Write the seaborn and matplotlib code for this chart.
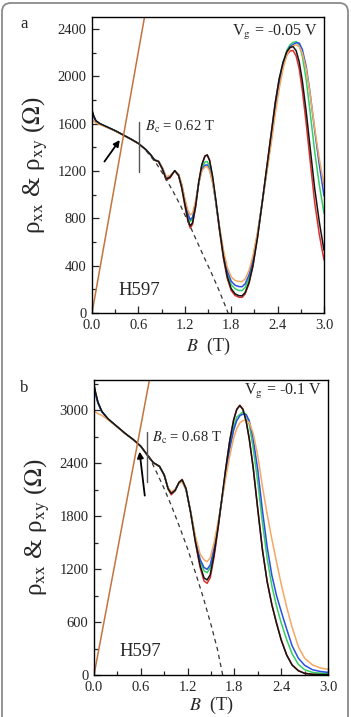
import numpy as np
import pandas as pd
import matplotlib
matplotlib.use("Agg")
import matplotlib.pyplot as plt
import seaborn as sns
from matplotlib.patches import FancyBboxPatch
from matplotlib.ticker import MultipleLocator, FormatStrFormatter

# ---- panel a : Vg = -0.05 V ----
B_A = [0.00, 0.02, 0.05, 0.10, 0.20, 0.30, 0.40, 0.50, 0.60, 0.70,
       0.76, 0.81, 0.86, 0.91, 0.96, 1.01, 1.07, 1.12, 1.16, 1.20,
       1.24, 1.27, 1.30, 1.34, 1.38, 1.42, 1.46, 1.49, 1.52, 1.56,
       1.60, 1.65, 1.70, 1.75, 1.80, 1.85, 1.90, 1.94, 1.98, 2.03,
       2.08, 2.14, 2.20, 2.26, 2.32, 2.37, 2.42, 2.47, 2.52, 2.56,
       2.60, 2.64, 2.68, 2.72, 2.77, 2.82, 2.88, 2.94, 3.00]

RXX_A_ORANGE = [1640, 1620, 1605, 1592, 1566, 1537, 1503, 1468, 1430, 1376,
                1333, 1290, 1283, 1228, 1150, 1162, 1196, 1170, 1090, 968,
                870, 828, 845, 950, 1095, 1200, 1233, 1236, 1203, 1100,
                945, 725, 530, 385, 305, 275, 266, 265, 288, 360,
                480, 680, 925, 1185, 1445, 1680, 1890, 2060, 2180, 2235,
                2258, 2264, 2250, 2195, 2060, 1850, 1560, 1300, 1080]
RXX_A_BLUE = [1700, 1662, 1620, 1598, 1569, 1539, 1505, 1470, 1432, 1378,
              1335, 1292, 1283, 1225, 1145, 1158, 1198, 1168, 1082, 955,
              838, 788, 808, 930, 1095, 1210, 1248, 1251, 1215, 1105,
              940, 710, 505, 355, 268, 235, 223, 222, 246, 322,
              452, 668, 930, 1200, 1475, 1718, 1925, 2090, 2205, 2250,
              2268, 2282, 2280, 2225, 2080, 1860, 1540, 1250, 990]
RXX_A_GREEN = [1705, 1665, 1622, 1600, 1570, 1540, 1505, 1470, 1432, 1378,
               1335, 1292, 1282, 1222, 1140, 1155, 1200, 1165, 1075, 945,
               825, 772, 795, 925, 1100, 1225, 1275, 1279, 1240, 1120,
               945, 705, 490, 330, 240, 205, 190, 189, 215, 295,
               430, 655, 925, 1205, 1490, 1740, 1950, 2110, 2220, 2265,
               2285, 2293, 2262, 2170, 1970, 1700, 1360, 1080, 842]
RXX_A_BLACK = [1715, 1670, 1625, 1600, 1570, 1540, 1505, 1470, 1432, 1378,
               1335, 1292, 1280, 1218, 1130, 1148, 1203, 1162, 1062, 922,
               790, 735, 762, 905, 1105, 1252, 1325, 1335, 1292, 1152,
               962, 705, 475, 305, 205, 162, 146, 145, 172, 258,
               398, 638, 928, 1228, 1528, 1778, 1978, 2118, 2208, 2243,
               2250, 2215, 2120, 1960, 1700, 1400, 1050, 765, 530]
RXX_A_RED = [1700, 1660, 1620, 1598, 1568, 1538, 1504, 1469, 1431, 1377,
             1334, 1290, 1278, 1215, 1122, 1142, 1200, 1160, 1055, 910,
             775, 718, 748, 895, 1100, 1250, 1325, 1335, 1288, 1140,
             945, 688, 458, 290, 190, 148, 133, 132, 160, 248,
             392, 636, 930, 1232, 1530, 1775, 1968, 2100, 2182, 2212,
             2217, 2170, 2060, 1880, 1600, 1290, 930, 660, 448]

HALL_A_B = [0.0, 0.72]
HALL_A_RHO = [0, 2650]
BG_A_B = [0.70, 0.83, 0.95, 1.05, 1.15, 1.25, 1.35, 1.45, 1.55, 1.65, 1.76]
BG_A_RHO = [1370, 1265, 1140, 1025, 900, 760, 615, 470, 330, 180, 0]

# ---- panel b : Vg = -0.1 V ----
B_B = [0.00, 0.02, 0.05, 0.10, 0.18, 0.28, 0.40, 0.50, 0.60, 0.68,
       0.76, 0.84, 0.90, 0.95, 0.99, 1.04, 1.09, 1.13, 1.18, 1.24,
       1.30, 1.36, 1.41, 1.45, 1.49, 1.54, 1.59, 1.64, 1.69, 1.74,
       1.79, 1.83, 1.87, 1.91, 1.95, 1.99, 2.04, 2.10, 2.16, 2.22,
       2.28, 2.34, 2.40, 2.47, 2.54, 2.62, 2.70, 2.80, 2.90, 3.00]

RXX_B_ORANGE = [2990, 2975, 2960, 2940, 2890, 2820, 2730, 2665, 2588, 2492,
                2402, 2360, 2268, 2120, 2075, 2100, 2170, 2185, 2100, 1850,
                1570, 1370, 1305, 1283, 1325, 1500, 1730, 1980, 2240, 2480,
                2680, 2790, 2855, 2880, 2887, 2860, 2740, 2480, 2130, 1820,
                1540, 1280, 1030, 770, 540, 320, 190, 115, 80, 64]
RXX_B_BLUE = [3250, 3175, 3080, 2980, 2898, 2823, 2733, 2667, 2589, 2493,
              2403, 2361, 2266, 2115, 2065, 2095, 2175, 2195, 2100, 1845,
              1545, 1310, 1218, 1196, 1245, 1440, 1700, 1985, 2280, 2560,
              2770, 2880, 2935, 2955, 2950, 2880, 2680, 2320, 1860, 1450,
              1130, 900, 720, 520, 330, 190, 110, 60, 40, 30]
RXX_B_GREEN = [3270, 3185, 3085, 2985, 2899, 2824, 2734, 2668, 2590, 2494,
               2404, 2362, 2264, 2112, 2060, 2093, 2180, 2205, 2105, 1840,
               1530, 1290, 1180, 1158, 1210, 1420, 1690, 1990, 2300, 2590,
               2810, 2920, 2950, 2981, 2950, 2840, 2580, 2180, 1720, 1320,
               1010, 780, 590, 400, 240, 120, 60, 30, 20, 18]
RXX_B_BLACK = [3290, 3200, 3090, 2985, 2900, 2825, 2735, 2668, 2590, 2495,
               2405, 2362, 2265, 2110, 2055, 2090, 2180, 2210, 2108, 1835,
               1510, 1240, 1100, 1076, 1135, 1370, 1670, 2005, 2345, 2650,
               2885, 3005, 3050, 3005, 2875, 2675, 2350, 1870, 1410, 1055,
               795, 585, 395, 225, 112, 48, 18, 8, 6, 6]
RXX_B_RED = [3280, 3195, 3088, 2984, 2899, 2824, 2734, 2667, 2589, 2494,
             2404, 2360, 2262, 2105, 2040, 2085, 2182, 2215, 2110, 1830,
             1500, 1220, 1065, 1038, 1100, 1340, 1650, 1995, 2340, 2650,
             2890, 3010, 3055, 3010, 2880, 2680, 2360, 1880, 1420, 1060,
             800, 590, 400, 230, 115, 50, 20, 8, 5, 5]

HALL_B_B = [0.0, 0.75]
HALL_B_RHO = [0, 3525]
BG_B_B = [0.70, 0.80, 0.90, 1.00, 1.10, 1.20, 1.30, 1.40, 1.50, 1.58, 1.65]
BG_B_RHO = [2480, 2300, 2110, 1900, 1670, 1430, 1160, 880, 570, 300, 0]

# drawing order: last one ends up on top
RUNS = ["red", "green", "blue", "orange", "black"]
PALETTE = {"orange": "#f4a862", "blue": "#2b4fe0", "green": "#33d060",
           "black": "#141414", "red": "#e0302c"}
HALL_COLOR = "#c4743c"


def long_frame(b, curves):
    parts = [pd.DataFrame({"B": b, "rho": curves[k], "run": k}) for k in RUNS]
    return pd.concat(parts, ignore_index=True)


def draw_panel(ax, b, curves, hall_b, hall_rho, bg_b, bg_rho, ymax, ystep, xpad=3):
    df = long_frame(b, curves)
    sns.lineplot(data=df, x="B", y="rho", hue="run", hue_order=RUNS, palette=PALETTE,
                 estimator=None, sort=False, lw=1.1, legend=False, ax=ax)
    sns.lineplot(x=hall_b, y=hall_rho, color=HALL_COLOR, lw=1.1, ax=ax)
    ax.plot(bg_b, bg_rho, ls=(0, (3.5, 3)), color="#333333", lw=0.9)

    ax.set_xlim(0, 3.0)
    ax.set_ylim(0, ymax)
    ax.xaxis.set_major_locator(MultipleLocator(0.6))
    ax.xaxis.set_minor_locator(MultipleLocator(0.3))
    ax.xaxis.set_major_formatter(FormatStrFormatter("%.1f"))
    ax.yaxis.set_major_locator(MultipleLocator(ystep))
    ax.yaxis.set_minor_locator(MultipleLocator(ystep / 2))
    ax.tick_params(which="both", direction="in", labelsize=10.5, width=0.9)
    ax.tick_params(which="major", length=5, pad=4)
    ax.tick_params(which="minor", length=3)
    for s in ax.spines.values():
        s.set_visible(True)
        s.set_linewidth(1.0)
        s.set_color("black")
    ax.set_xlabel(r"$B$  (T)", fontsize=13, labelpad=xpad)
    ax.set_ylabel(r"ρ$_{\rm xx}$ & ρ$_{\rm xy}$ ($\Omega$)", fontsize=18, labelpad=5)


sns.set_style("ticks")
plt.rcParams["font.family"] = ["Liberation Serif", "DejaVu Serif"]
plt.rcParams["mathtext.fontset"] = "stix"

W, H = 351, 717
fig = plt.figure(figsize=(W / 100, H / 100), dpi=100)
fig.patch.set_facecolor("white")

ax_a = fig.add_axes([92 / W, 1 - 313 / H, 232 / W, 296 / H])
ax_b = fig.add_axes([94 / W, 1 - 675 / H, 234 / W, 295 / H])

curves_a = {"orange": RXX_A_ORANGE, "blue": RXX_A_BLUE, "green": RXX_A_GREEN,
            "black": RXX_A_BLACK, "red": RXX_A_RED}
curves_b = {"orange": RXX_B_ORANGE, "blue": RXX_B_BLUE, "green": RXX_B_GREEN,
            "black": RXX_B_BLACK, "red": RXX_B_RED}

draw_panel(ax_a, B_A, curves_a, HALL_A_B, HALL_A_RHO, BG_A_B, BG_A_RHO, 2500, 400)
draw_panel(ax_b, B_B, curves_b, HALL_B_B, HALL_B_RHO, BG_B_B, BG_B_RHO, 3340, 600, xpad=1)

# annotations panel a
ax_a.plot([0.61, 0.61], [1195, 1615], color="#555555", lw=1.0)
ax_a.text(0.68, 1575, r"$B_{\rm c}$ = 0.62 T", fontsize=10.5, va="center")
ax_a.annotate("", xy=(0.38, 1480), xytext=(0.14, 1260),
              arrowprops=dict(arrowstyle="-|>", color="black", lw=1.3, mutation_scale=9))
ax_a.text(0.34, 194, "H597", fontsize=13.5, va="center")
ax_a.text(0.972, 0.946, r"V$_{\rm g}$ = -0.05 V", transform=ax_a.transAxes,
          fontsize=11.5, ha="right", va="center")

# annotations panel b
ax_b.plot([0.675, 0.675], [2190, 2750], color="#555555", lw=1.0)
ax_b.text(0.75, 2685, r"$B_{\rm c}$ = 0.68 T", fontsize=10.5, va="center")
ax_b.annotate("", xy=(0.58, 2560), xytext=(0.655, 2000),
              arrowprops=dict(arrowstyle="-|>", color="black", lw=1.3, mutation_scale=9))
ax_b.text(0.33, 268, "H597", fontsize=13.5, va="center")
ax_b.text(0.975, 0.962, r"V$_{\rm g}$ = -0.1 V", transform=ax_b.transAxes,
          fontsize=11.5, ha="right", va="center")

fig.text(20 / W, 1 - 24 / H, "a", fontsize=12, ha="left", va="center")
fig.text(20 / W, 1 - 388 / H, "b", fontsize=12, ha="left", va="center")

# rounded outer frame (its lower edge runs well past the bottom of the picture)
frame = FancyBboxPatch((2 / W, -0.3), 346 / W, 1.3 - 3 / H,
                       boxstyle="round,pad=0,rounding_size=0.025",
                       mutation_aspect=W / H, transform=fig.transFigure,
                       fill=False, edgecolor="#8a8a8a", lw=1.3)
fig.patches.append(frame)

fig.savefig("out.png", dpi=100)
